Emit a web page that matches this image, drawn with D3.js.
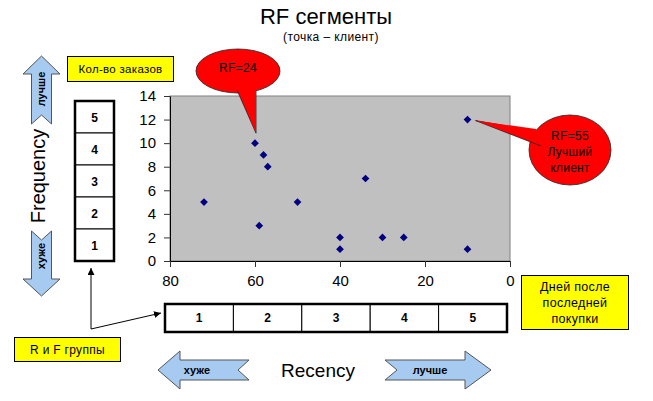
<!DOCTYPE html>
<html><head><meta charset="utf-8">
<script src="https://cdn.jsdelivr.net/npm/d3@7"></script>
<style>
body{margin:0;background:#fff;}
svg{display:block;font-family:"Liberation Sans",Arial,sans-serif;}
</style></head><body>
<svg id="c" width="653" height="401"></svg>
<script>
// ---- data ----
const recency   = [72, 60, 58, 57, 59, 50, 40, 40, 34, 30, 25, 10, 10];
const frequency = [5, 10, 9, 8, 3, 5, 2, 1, 7, 2, 2, 12, 1];
const xTicks = [80, 60, 40, 20, 0];
const yTicks = [0, 2, 4, 6, 8, 10, 12, 14];
const rGroups = ["1", "2", "3", "4", "5"];
const fGroups = ["5", "4", "3", "2", "1"];
const title = "RF сегменты";
const subtitle = "(точка – клиент)";

const svg = d3.select("#c");
const x = d3.scaleLinear().domain([80, 0]).range([170, 510]);
const y = d3.scaleLinear().domain([0, 14]).range([261, 96]);

// title
svg.append("text").attr("x", 326).attr("y", 24).attr("text-anchor", "middle")
  .attr("font-size", 22).text(title);
svg.append("text").attr("x", 331).attr("y", 41).attr("text-anchor", "middle")
  .attr("font-size", 12).attr("letter-spacing", 0.4).text(subtitle);

// plot area
svg.append("rect").attr("x", x(80)).attr("y", y(14))
  .attr("width", x(0) - x(80)).attr("height", y(0) - y(14))
  .attr("fill", "#C0C0C0").attr("stroke", "#808080").attr("stroke-width", 1);

const yAxis = svg.append("g").attr("transform", `translate(${x(80)},0)`)
  .call(d3.axisLeft(y).tickValues(yTicks).tickSize(6).tickPadding(8).tickSizeOuter(0));
const xAxis = svg.append("g").attr("transform", `translate(0,${y(0)})`)
  .call(d3.axisBottom(x).tickValues(xTicks).tickSize(6).tickPadding(8).tickSizeOuter(0));
[yAxis, xAxis].forEach(g => {
  g.selectAll("path").attr("stroke", "#000");
  g.selectAll("line").attr("stroke", "#333");
  g.selectAll("text").attr("font-size", 15).attr("fill", "#000")
    .attr("font-family", "'Liberation Sans',Arial,sans-serif");
});

// points
const diamond = { draw(ctx, size) { const r = Math.sqrt(size) / 2; ctx.moveTo(0, -r); ctx.lineTo(r, 0); ctx.lineTo(0, r); ctx.lineTo(-r, 0); ctx.closePath(); } };
svg.append("g").selectAll("path").data(recency.map((r, i) => [r, frequency[i]]))
  .join("path")
  .attr("transform", d => `translate(${x(d[0])},${y(d[1])})`)
  .attr("d", d3.symbol(diamond, 60))
  .attr("fill", "#000080");

// callouts
function callout(cx, cy, rx, ry, tip, b1, b2, lines, fy) {
  const g = svg.append("g");
  g.append("ellipse").attr("cx", cx).attr("cy", cy).attr("rx", rx).attr("ry", ry)
    .attr("fill", "#FF0000").attr("stroke", "#222").attr("stroke-width", 0.8);
  g.append("path").attr("d", `M${b1[0]},${b1[1]}L${tip[0]},${tip[1]}L${b2[0]},${b2[1]}`)
    .attr("fill", "#FF0000").attr("stroke", "#222").attr("stroke-width", 0.8);
  g.append("path").attr("fill", "#FF0000").attr("stroke", "none")
    .attr("d", `M${b1[0] + (b1[0] < b2[0] ? 1 : -1)},${b1[1] - 2}L${tip[0]},${tip[1]}L${b2[0]},${b2[1] - 2}Z`);
  lines.forEach((t, i) => g.append("text").attr("x", cx).attr("y", fy + i * 16)
    .attr("text-anchor", "middle").attr("font-size", 12).attr("letter-spacing", 0.3).text(t));
}
callout(238, 71, 42, 22, [x(60) + 1, y(10) - 10], [237, 90], [256, 91], ["RF=24"], 72);
callout(570, 150, 41, 35, [x(10) + 8, y(12) + 1], [535, 131], [541, 146], ["RF=55", "Лучший", "клиент"], 140);

// yellow boxes
function yBox(x0, y0, w, h, lines, fy, fs) {
  svg.append("rect").attr("x", x0).attr("y", y0).attr("width", w).attr("height", h)
    .attr("fill", "#FFFF00").attr("stroke", "#000").attr("stroke-width", 1);
  lines.forEach((t, i) => svg.append("text").attr("x", x0 + w / 2).attr("y", fy + i * 16)
    .attr("text-anchor", "middle").attr("font-size", fs).attr("letter-spacing", 0.3).text(t));
}
yBox(67.5, 56.5, 106, 25, ["Кол-во заказов"], 73, 11.5);
yBox(521.5, 275.5, 107, 54, ["Дней после", "последней", "покупки"], 291, 12.5);
yBox(14.5, 337.5, 106, 24, ["R и F группы"], 354, 12);

// F group box (vertical)
const fy = d3.scaleBand().domain(fGroups).range([101, 261]);
const fg = svg.append("g");
fg.selectAll("rect").data(fGroups).join("rect")
  .attr("x", 75).attr("y", d => fy(d)).attr("width", 39).attr("height", fy.bandwidth())
  .attr("fill", "#fff").attr("stroke", "#000").attr("stroke-width", 1);
fg.append("rect").attr("x", 75).attr("y", 101).attr("width", 39).attr("height", 160)
  .attr("fill", "none").attr("stroke", "#000").attr("stroke-width", 2.5);
fg.selectAll("text").data(fGroups).join("text")
  .attr("x", 94.5).attr("y", d => fy(d) + fy.bandwidth() / 2 + 4.5)
  .attr("text-anchor", "middle").attr("font-size", 12).attr("font-weight", "bold").text(d => d);

// R group box (horizontal)
const rx = d3.scaleBand().domain(rGroups).range([165, 507]);
const rg = svg.append("g");
rg.selectAll("rect").data(rGroups).join("rect")
  .attr("x", d => rx(d)).attr("y", 304).attr("width", rx.bandwidth()).attr("height", 28)
  .attr("fill", "#fff").attr("stroke", "#000").attr("stroke-width", 1);
rg.append("rect").attr("x", 165).attr("y", 304).attr("width", 342).attr("height", 28)
  .attr("fill", "none").attr("stroke", "#000").attr("stroke-width", 2.5);
rg.selectAll("text").data(rGroups).join("text")
  .attr("x", d => rx(d) + rx.bandwidth() / 2).attr("y", 322)
  .attr("text-anchor", "middle").attr("font-size", 12).attr("font-weight", "bold").text(d => d);

// connector arrows
const defs = svg.append("defs");
defs.append("marker").attr("id", "ah").attr("viewBox", "0 0 10 10").attr("refX", 10).attr("refY", 5)
  .attr("markerWidth", 7).attr("markerHeight", 7).attr("orient", "auto")
  .append("path").attr("d", "M0,0L10,5L0,10Z").attr("fill", "#000");
svg.append("line").attr("x1", 91).attr("y1", 329).attr("x2", 91).attr("y2", 268)
  .attr("stroke", "#000").attr("stroke-width", 1).attr("marker-end", "url(#ah)");
svg.append("line").attr("x1", 91).attr("y1", 329).attr("x2", 161).attr("y2", 313)
  .attr("stroke", "#000").attr("stroke-width", 1).attr("marker-end", "url(#ah)");

// blue arrows
const arrowFill = "#A6CAF0", arrowStroke = "#555";
function poly(pts) {
  svg.append("path").attr("d", d3.line()(pts) + "Z")
    .attr("fill", arrowFill).attr("stroke", arrowStroke).attr("stroke-width", 1);
}
poly([[41.5, 56], [60, 74], [51.5, 74], [51.5, 124], [41.5, 115], [31.5, 124], [31.5, 74], [23, 74]]);
poly([[31.5, 231], [41.5, 240], [51.5, 231], [51.5, 279], [60, 279], [41.5, 296], [23, 279], [31.5, 279]]);
poly([[158, 370], [180, 351], [180, 360], [249, 360], [238, 370], [249, 380], [180, 380], [180, 389]]);
poly([[385, 360], [465, 360], [465, 351], [491, 370], [465, 389], [465, 380], [385, 380], [397, 370]]);

function rotText(cx, cy, t, size, bold) {
  svg.append("text").attr("transform", `translate(${cx},${cy}) rotate(-90)`)
    .attr("text-anchor", "middle").attr("dy", "0.35em").attr("font-size", size)
    .attr("font-weight", bold ? "bold" : "normal").text(t);
}
rotText(41.5, 89, "лучше", 11, true);
rotText(41.5, 256, "хуже", 11, true);
rotText(38, 176, "Frequency", 20, false);

svg.append("text").attr("x", 197).attr("y", 374).attr("text-anchor", "middle")
  .attr("font-size", 11).attr("font-weight", "bold").text("хуже");
svg.append("text").attr("x", 430).attr("y", 374).attr("text-anchor", "middle")
  .attr("font-size", 11).attr("font-weight", "bold").text("лучше");
svg.append("text").attr("x", 318).attr("y", 377).attr("text-anchor", "middle")
  .attr("font-size", 19).text("Recency");
</script>
</body></html>
